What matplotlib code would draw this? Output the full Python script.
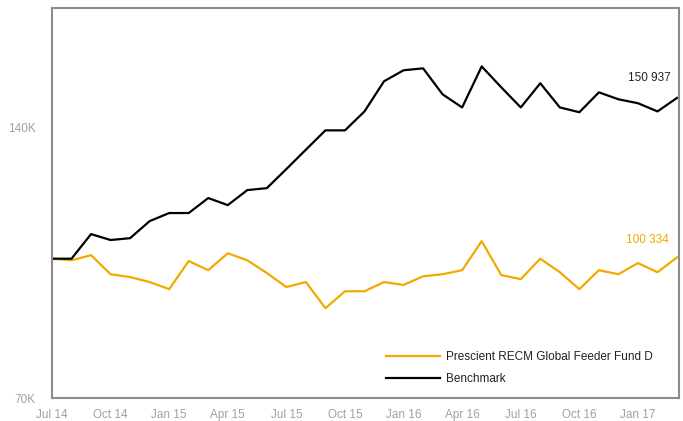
import matplotlib
matplotlib.use("Agg")
import matplotlib.pyplot as plt
from matplotlib.ticker import FixedLocator, NullLocator

plt.rcParams['font.family'] = ['Liberation Sans Narrow', 'Liberation Sans', 'DejaVu Sans']

# monthly values, Jul 2014 - Mar 2017 (thousands)
fund = [100.0, 99.6, 100.9, 96.1, 95.4, 94.2, 92.5, 99.4, 97.1, 101.4, 99.6,
        96.4, 93.0, 94.2, 88.1, 92.0, 92.0, 94.2, 93.5, 95.6, 96.1, 97.1,
        104.6, 95.9, 94.9, 100.0, 96.6, 92.5, 97.1, 96.1, 98.9, 96.6, 100.334]
bench = [100.0, 100.0, 106.5, 104.9, 105.4, 110.1, 112.4, 112.4, 116.8, 114.7,
         119.2, 119.8, 125.8, 132.2, 138.9, 138.9, 145.8, 157.5, 162.0, 162.8,
         152.3, 147.3, 163.6, 155.1, 147.3, 156.7, 147.3, 145.5, 153.1, 150.4,
         148.9, 145.8, 150.937]
tick_labels = ['Jul 14', 'Oct 14', 'Jan 15', 'Apr 15', 'Jul 15', 'Oct 15',
               'Jan 16', 'Apr 16', 'Jul 16', 'Oct 16', 'Jan 17']
fund_name = 'Prescient RECM Global Feeder Fund D'
bench_name = 'Benchmark'

yellow = '#F2A900'
grey = '#8c8c8c'

fig = plt.figure(figsize=(6.83, 4.21), dpi=100)
ax = fig.add_axes([0.0761, 0.0546, 0.918, 0.9264])

x = list(range(len(fund)))
ax.plot(x, [v * 1000 for v in fund], color=yellow, lw=1.6, label=fund_name)
ax.plot(x, [v * 1000 for v in bench], color='black', lw=1.6, label=bench_name)

ax.set_yscale('log')
ax.set_ylim(70000, 190000)
ax.set_xlim(0, 32.1)
ax.yaxis.set_major_locator(FixedLocator([70000, 140000]))
ax.yaxis.set_minor_locator(NullLocator())
ax.set_yticklabels(['70K', '140K'])
ax.set_xticks(range(0, 31, 3))
ax.set_xticklabels(tick_labels)
ax.tick_params(length=0, labelsize=8.5, labelcolor='#a0a0a0')
ax.tick_params(axis='x', pad=8)
ax.tick_params(axis='y', pad=12)

for s in ax.spines.values():
    s.set_color(grey)
    s.set_linewidth(1.5)

# end values
ax.text(31.7, bench[-1] * 1000 * 1.035, '150 937', ha='right', va='bottom',
        fontsize=8.5, color='#222222')
ax.text(31.6, fund[-1] * 1000 * 1.03, '100 334', ha='right', va='bottom',
        fontsize=8.5, color=yellow)

leg = ax.legend(loc='lower right', frameon=False, fontsize=8.5, handlelength=4.6,
                handletextpad=0.5, bbox_to_anchor=(0.975, 0.005), labelspacing=0.9)
for t in leg.get_texts():
    t.set_color('#222222')

fig.savefig('out.png', dpi=100, facecolor='white')
